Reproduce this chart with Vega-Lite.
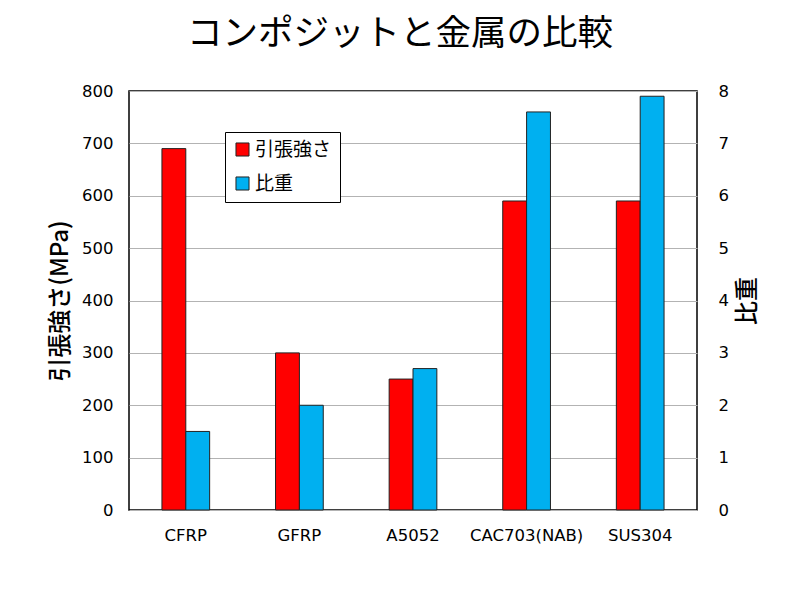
{
  "$schema": "https://vega.github.io/schema/vega-lite/v6.json",
  "width": 568,
  "height": 419,
  "autosize": "none",
  "padding": {"left": 129, "top": 91, "right": 104, "bottom": 82},
  "background": "white",
  "title": {
    "text": "コンポジットと金属の比較",
    "font": "Noto Sans CJK JP",
    "fontSize": 35.5,
    "fontWeight": "normal",
    "color": "#000000",
    "anchor": "middle",
    "dx": -13,
    "offset": 31
  },
  "config": {
    "view": {"stroke": "#000000", "strokeWidth": 1.5},
    "axis": {
      "labelFont": "DejaVu Sans",
      "labelFontSize": 16.5,
      "labelColor": "#000000",
      "titleFont": "Noto Sans CJK JP",
      "titleFontWeight": 500,
      "titleColor": "#000000",
      "domainColor": "#000000"
    }
  },
  "data": {
    "values": [
      {"material": "CFRP", "strength": 690, "sg": 1.5},
      {"material": "GFRP", "strength": 300, "sg": 2.0},
      {"material": "A5052", "strength": 250, "sg": 2.7},
      {"material": "CAC703(NAB)", "strength": 590, "sg": 7.6},
      {"material": "SUS304", "strength": 590, "sg": 7.9}
    ]
  },
  "encoding": {
    "x": {
      "field": "material",
      "type": "nominal",
      "sort": null,
      "scale": {"paddingInner": 0.58, "paddingOuter": 0.29},
      "axis": {"title": null, "labelAngle": 0, "ticks": false, "labelPadding": 17, "domain": false, "grid": false}
    }
  },
  "layer": [
    {
      "mark": {"type": "bar", "stroke": "#222222", "strokeWidth": 1},
      "encoding": {
        "xOffset": {"datum": "引張強さ", "scale": {"domain": ["引張強さ", "比重"], "paddingInner": 0, "paddingOuter": 0}},
        "y": {
          "field": "strength",
          "type": "quantitative",
          "scale": {"domain": [0, 800], "nice": false},
          "axis": {
            "title": "引張強さ(MPa)",
            "titleFontSize": 24,
            "titlePadding": 9,
            "values": [0, 100, 200, 300, 400, 500, 600, 700, 800],
            "ticks": false,
            "labelPadding": 16,
            "domain": false,
            "grid": true,
            "gridColor": "#b3b3b3",
            "gridWidth": 1.2
          }
        },
        "color": {
          "datum": "引張強さ",
          "scale": {"domain": ["引張強さ", "比重"], "range": ["#FF0000", "#00B0F0"]},
          "legend": {
            "title": null,
            "orient": "none",
            "legendX": 96,
            "legendY": 41,
            "symbolType": "square",
            "symbolSize": 170,
            "symbolStrokeColor": "#222222",
            "symbolStrokeWidth": 1,
            "labelFont": "Noto Sans CJK JP",
            "labelFontSize": 19,
            "labelColor": "#000000",
            "rowPadding": 14,
            "strokeColor": "#000000",
            "fillColor": "#ffffff",
            "padding": 8,
            "labelOffset": 3
          }
        }
      }
    },
    {
      "mark": {"type": "bar", "stroke": "#222222", "strokeWidth": 1},
      "encoding": {
        "xOffset": {"datum": "比重"},
        "y": {
          "field": "sg",
          "type": "quantitative",
          "scale": {"domain": [0, 8], "nice": false},
          "axis": {
            "orient": "right",
            "title": "比重",
            "titleFontSize": 24,
            "titleAngle": -90,
            "titlePadding": 31,
            "values": [0, 1, 2, 3, 4, 5, 6, 7, 8],
            "ticks": false,
            "labelPadding": 21,
            "domain": false,
            "grid": false
          }
        },
        "color": {"datum": "比重"}
      }
    }
  ],
  "resolve": {"scale": {"y": "independent"}}
}
